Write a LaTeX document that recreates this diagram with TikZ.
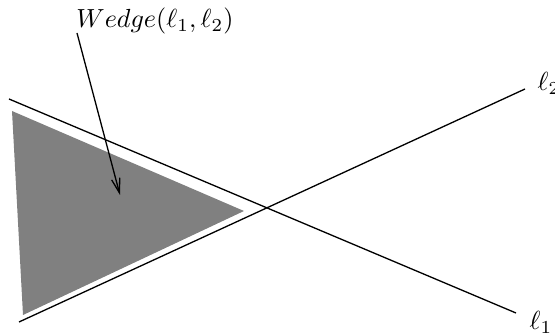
\documentclass[tikz,border=0pt]{standalone}
\usepackage{amsmath,amssymb}
\usepackage{xcolor}
\usepackage{tikz}
\usetikzlibrary{arrows.meta, calc}
\definecolor{wedgegray}{RGB}{128, 128, 128}

\begin{document}
\begin{tikzpicture}[x=0.382pt, y=-0.382pt,
  linestyle/.style={black, line width=0.5pt},
  labelstyle/.style={inner sep=0pt}]
  \useasboundingbox (0,0) rectangle (555,334);
  % The two lines
  \coordinate (a1) at (9,99);
  \coordinate (b1) at (516,313);
  \coordinate (a2) at (19,322);
  \coordinate (b2) at (525,89);
  \draw[linestyle] (a1) -- (b1);
  \draw[linestyle] (a2) -- (b2);
  % Shaded wedge
  \coordinate (w1) at (12,111);
  \coordinate (w2) at (244,211);
  \coordinate (w3) at (23,315);
  \fill[wedgegray] (w1) -- (w2) -- (w3) -- cycle;
  % Labels
  \node[labelstyle] (l1) at (541,322) {$\ell_1$};
  \node[labelstyle] (l2) at (549,83) {$\ell_2$};
  \node[labelstyle] (wedge) at (155,21) {$Wedge(\ell_1,\ell_2)$};
  % Pointer into the wedge
  \coordinate (from) at (77,33);
  \coordinate (tip) at (120,195);
  \draw[linestyle, -{Straight Barb[length=5.5pt,width=3.2pt]}] (from) -- (tip);
\end{tikzpicture}
\end{document}
